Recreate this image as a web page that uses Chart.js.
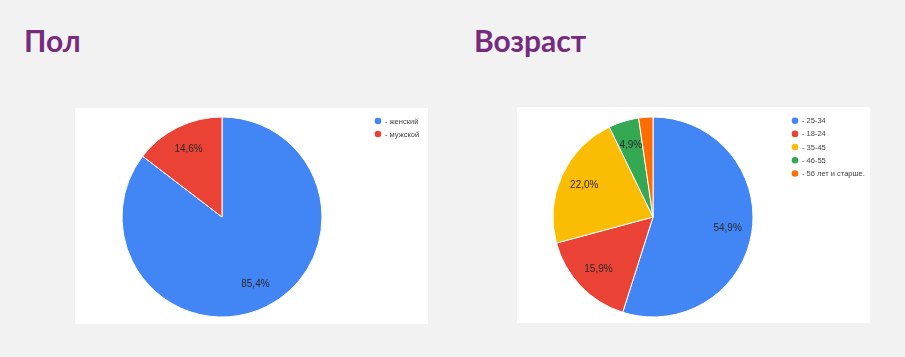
<!DOCTYPE html>
<html><head><meta charset="utf-8">
<script src="https://cdn.jsdelivr.net/npm/chart.js@4.4.0/dist/chart.umd.min.js"></script>
<style>
html,body{margin:0;padding:0;background:#f2f2f2;width:905px;height:357px;overflow:hidden;}
.title{position:absolute;font-family:Lato,"Open Sans",sans-serif;font-weight:700;font-size:30px;color:#762a80;line-height:1;}
.panel{position:absolute;background:#fff;}
canvas{display:block;}
</style></head>
<body>
<div class="title" id="t1" style="left:24px;top:25px;">Пол</div>
<div class="title" id="t2" style="left:474px;top:25px;">Возраст</div>
<div class="panel" style="left:75px;top:108px;width:353px;height:216px;"><canvas id="c1" width="353" height="216"></canvas></div>
<div class="panel" style="left:517px;top:107px;width:353px;height:216px;"><canvas id="c2" width="353" height="216"></canvas></div>
<script>
// Data
const genderLabels = ['- женский', '- мужской'];
const genderValues = [85.4, 14.6];
const genderColors = ['#4285f4', '#ea4335'];

const ageLabels = ['- 25-34', '- 18-24', '- 35-45', '- 46-55', '- 56 лет и старше.'];
const ageValues = [54.9, 15.9, 22.0, 4.9, 2.3];
const ageColors = ['#4285f4', '#ea4335', '#fbbc04', '#34a853', '#ff6d01'];

// Plugin: slice percentage labels
const sliceLabels = {
  id: 'sliceLabels',
  afterDatasetsDraw(chart) {
    const ctx = chart.ctx;
    const meta = chart.getDatasetMeta(0);
    const vals = chart.data.datasets[0].data;
    ctx.save();
    ctx.font = '10px "Liberation Sans", Arial, sans-serif';
    ctx.fillStyle = '#2a2a2a';
    ctx.textAlign = 'center';
    ctx.textBaseline = 'middle';
    meta.data.forEach((arc, i) => {
      if (vals[i] < 3) return;
      const p = arc.getProps(['x','y','startAngle','endAngle','outerRadius'], true);
      const mid = (p.startAngle + p.endAngle) / 2;
      const r = p.outerRadius * 0.755;
      ctx.fillText(vals[i].toFixed(1).replace('.', ',') + '%', p.x + Math.cos(mid) * r, p.y + Math.sin(mid) * r);
    });
    ctx.restore();
  }
};

// Plugin: simple legend at a given position
const sideLegend = {
  id: 'sideLegend',
  afterDraw(chart, args, opts) {
    const ctx = chart.ctx;
    const ds = chart.data.datasets[0];
    ctx.save();
    ctx.font = '7.5px "Liberation Sans", Arial, sans-serif';
    ctx.textBaseline = 'middle';
    ctx.textAlign = 'left';
    chart.data.labels.forEach((lab, i) => {
      const y = opts.y + i * opts.step;
      ctx.beginPath();
      ctx.arc(opts.x, y, 3.3, 0, Math.PI * 2);
      ctx.fillStyle = ds.backgroundColor[i];
      ctx.fill();
      ctx.fillStyle = '#444';
      ctx.fillText(lab, opts.x + 7, y + 0.5);
    });
    ctx.restore();
  }
};

function makePie(id, labels, values, colors, pad, legendPos) {
  return new Chart(document.getElementById(id), {
    type: 'pie',
    data: { labels: labels, datasets: [{ data: values, backgroundColor: colors, borderColor: '#ffffff', borderWidth: 1, radius: 100 }] },
    options: {
      responsive: false,
      animation: false,
      layout: { padding: pad },
      plugins: { legend: { display: false }, tooltip: { enabled: false }, sideLegend: legendPos }
    },
    plugins: [sliceLabels, sideLegend]
  });
}

makePie('c1', genderLabels, genderValues, genderColors, {left: 47, right: 106, top: 9, bottom: 7}, {x: 303, y: 13, step: 13});
makePie('c2', ageLabels, ageValues, ageColors, {left: 36, right: 117, top: 10, bottom: 6}, {x: 278, y: 13.7, step: 13.2});
</script>
</body></html>
